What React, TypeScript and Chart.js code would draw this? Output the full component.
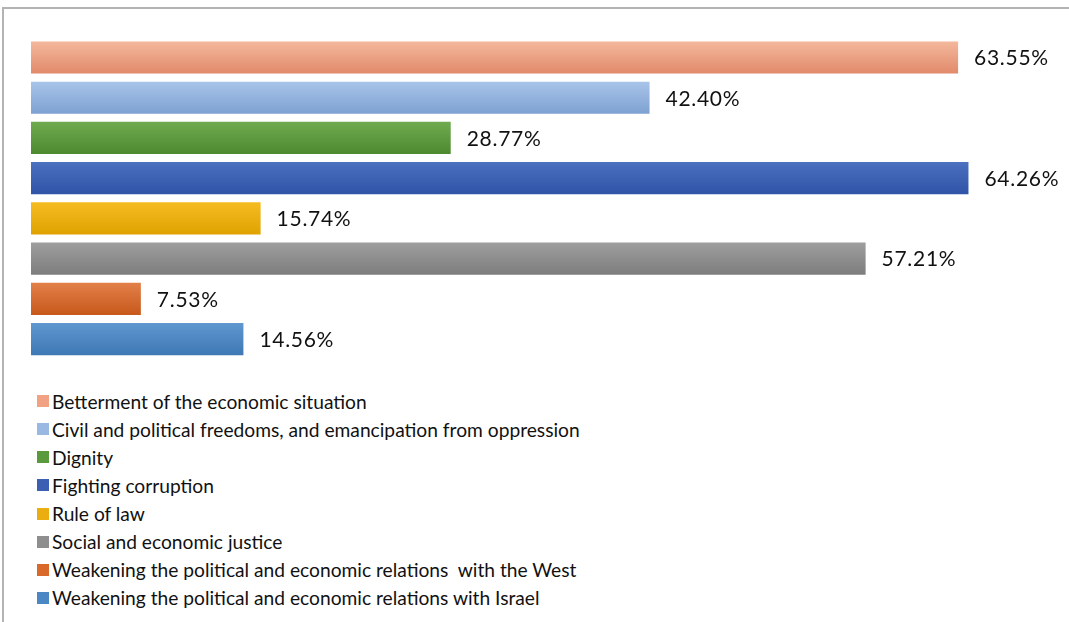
import React, { useEffect, useRef } from "react";
import { Chart, registerables } from "chart.js";

Chart.register(...registerables);

const categories = [
  "Betterment of the economic situation",
  "Civil and political freedoms, and emancipation from oppression",
  "Dignity",
  "Fighting corruption",
  "Rule of law",
  "Social and economic justice",
  "Weakening the political and economic relations  with the West",
  "Weakening the political and economic relations with Israel",
];

const values = [63.55, 42.4, 28.77, 64.26, 15.74, 57.21, 7.53, 14.56];

const topColors = ["#F4B89C", "#A9C4E9", "#6FAA4F", "#4B70C0", "#F5BC22", "#9E9E9E", "#E2804A", "#5F97CF"];
const bottomColors = ["#E18A6B", "#7DA1D2", "#4D8A2F", "#2F53A6", "#DFA200", "#7D7D7D", "#C8581B", "#3E78B5"];
const legendColors = ["#F0A283", "#99B8E2", "#5B9A3C", "#3A5FB3", "#EBAE10", "#8E8E8E", "#D8692B", "#4A87C3"];

const xMax = 70;

export default function App() {
  const canvasRef = useRef<HTMLCanvasElement | null>(null);

  useEffect(() => {
    const canvas = canvasRef.current;
    if (!canvas) return;

    const gradientPlugin = {
      id: "barGradient",
      beforeDatasetsDraw(chart: any) {
        const meta = chart.getDatasetMeta(0);
        meta.data.forEach((el: any, i: number) => {
          const p = el.getProps(["y", "height"], true);
          const g = chart.ctx.createLinearGradient(0, p.y - p.height / 2, 0, p.y + p.height / 2);
          g.addColorStop(0, topColors[i]);
          g.addColorStop(1, bottomColors[i]);
          el.options = { ...el.options, backgroundColor: g };
        });
      },
    };

    const labelPlugin = {
      id: "valueLabels",
      afterDatasetsDraw(chart: any) {
        const ctx = chart.ctx;
        const meta = chart.getDatasetMeta(0);
        ctx.save();
        ctx.font = "21px Lato";
        (ctx as any).letterSpacing = "0.7px";
        ctx.fillStyle = "#111";
        ctx.textAlign = "left";
        ctx.textBaseline = "middle";
        meta.data.forEach((el: any, i: number) => {
          const p = el.getProps(["x", "y"], true);
          ctx.fillText(values[i].toFixed(2) + "%", p.x + 16, p.y + 1);
        });
        ctx.restore();
      },
    };

    const chart = new Chart(canvas, {
      type: "bar",
      data: {
        labels: categories,
        datasets: [
          {
            data: values,
            backgroundColor: legendColors,
            borderWidth: 0,
            barPercentage: 0.8,
            categoryPercentage: 1,
          },
        ],
      },
      options: {
        indexAxis: "y",
        animation: false,
        responsive: false,
        maintainAspectRatio: false,
        layout: { padding: { left: 31, right: 16.8, top: 37.4, bottom: 20.8 } },
        scales: {
          x: { display: false, min: 0, max: xMax, grid: { display: false } },
          y: { display: false, grid: { display: false } },
        },
        plugins: {
          legend: { display: false },
          tooltip: { enabled: false },
        },
      },
      plugins: [gradientPlugin, labelPlugin],
    });

    return () => chart.destroy();
  }, []);

  return (
    <div style={{ position: "fixed", left: 0, top: 0, width: 1069, height: 622, background: "#fff", overflow: "hidden" }}>
      <div style={{ position: "absolute", left: 2, top: 7, width: 1067, height: 615, borderLeft: "2px solid #b3b3b3", borderTop: "2px solid #b3b3b3", boxSizing: "border-box" }} />
      <canvas ref={canvasRef} width={1069} height={380} style={{ position: "absolute", left: 0, top: 0, width: 1069, height: 380 }} />
      <div style={{ position: "absolute", left: 0, top: 387, fontFamily: "Lato", fontSize: 19.2, color: "#111" }}>
        {categories.map((c, i) => (
          <div key={i} style={{ height: 28.14, display: "flex", alignItems: "center", whiteSpace: "pre" }}>
            <span style={{ display: "inline-block", width: 12, height: 12, marginLeft: 37, marginRight: 3, background: legendColors[i] }} />
            <span>{c}</span>
          </div>
        ))}
      </div>
    </div>
  );
}
